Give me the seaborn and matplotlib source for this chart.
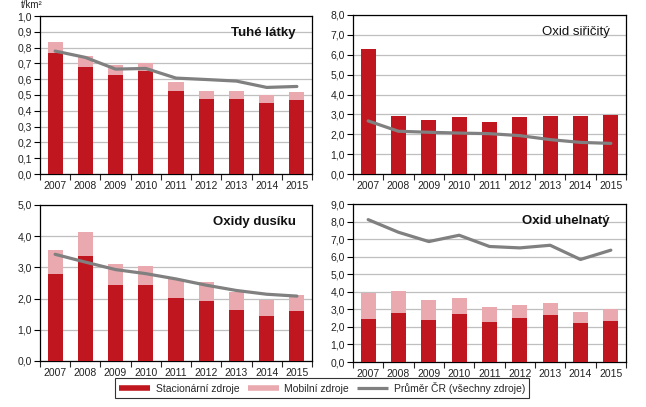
import numpy as np
import pandas as pd
import matplotlib
matplotlib.use("Agg")
import matplotlib.pyplot as plt
from matplotlib.lines import Line2D
from matplotlib.ticker import FuncFormatter, FixedLocator
import seaborn as sns

years = ["2007", "2008", "2009", "2010", "2011", "2012", "2013", "2014", "2015"]

# Tuhe latky
tzl_stat = [0.767, 0.677, 0.628, 0.649, 0.526, 0.474, 0.474, 0.450, 0.469]
tzl_mob = [0.068, 0.069, 0.059, 0.051, 0.057, 0.050, 0.050, 0.047, 0.049]
tzl_avg = [0.778, 0.738, 0.664, 0.668, 0.607, 0.598, 0.588, 0.548, 0.554]

# Oxid siricity
so2_stat = [6.28, 2.90, 2.70, 2.85, 2.60, 2.85, 2.90, 2.90, 2.95]
so2_mob = [0.01, 0.01, 0.01, 0.01, 0.01, 0.01, 0.01, 0.01, 0.01]
so2_avg = [2.67, 2.15, 2.10, 2.06, 2.03, 1.93, 1.73, 1.59, 1.54]

# Oxidy dusiku
nox_stat = [2.78, 3.35, 2.43, 2.43, 2.02, 1.91, 1.62, 1.43, 1.59]
nox_mob = [0.77, 0.77, 0.67, 0.60, 0.62, 0.61, 0.58, 0.51, 0.51]
nox_avg = [3.42, 3.17, 2.93, 2.80, 2.63, 2.43, 2.26, 2.14, 2.08]

# Oxid uhelnaty
co_stat = [2.46, 2.80, 2.40, 2.74, 2.29, 2.51, 2.68, 2.23, 2.34]
co_mob = [1.47, 1.25, 1.14, 0.91, 0.85, 0.74, 0.68, 0.62, 0.68]
co_avg = [8.11, 7.39, 6.86, 7.22, 6.58, 6.50, 6.65, 5.84, 6.37]

panels = [
    ("Tuhé látky", tzl_stat, tzl_mob, tzl_avg, 1.0, 0.1, "bold"),
    ("Oxid siřičitý", so2_stat, so2_mob, so2_avg, 8.0, 1.0, "normal"),
    ("Oxidy dusíku", nox_stat, nox_mob, nox_avg, 5.0, 1.0, "semibold"),
    ("Oxid uhelnatý", co_stat, co_mob, co_avg, 9.0, 1.0, "bold"),
]

RED = "#C0161F"
PINK = "#E9A9AE"
GREY = "#808080"

sns.set_style("white")
plt.rcParams["font.family"] = ["Liberation Sans", "DejaVu Sans"]

fig = plt.figure(figsize=(6.46, 4.07), dpi=100)
W, H = 646.0, 407.0
boxes = [(40, 16, 312, 174), (353, 15, 626, 174), (40, 205, 312, 361), (353, 204, 626, 362)]

for (title, stat, mob, avg, ymax, step, weight), (x0, y0, x1, y1) in zip(panels, boxes):
    ax = fig.add_axes([x0 / W, 1 - y1 / H, (x1 - x0) / W, (y1 - y0) / H])
    df = pd.DataFrame({"year": years, "stat": stat,
                       "total": np.array(stat) + np.array(mob), "avg": avg})
    sns.barplot(data=df, x="year", y="total", color=PINK, width=0.5,
                saturation=1, ax=ax, zorder=2, linewidth=0)
    sns.barplot(data=df, x="year", y="stat", color=RED, width=0.5,
                saturation=1, ax=ax, zorder=3, linewidth=0)
    sns.lineplot(x=np.arange(len(years)), y=df["avg"], color=GREY, lw=2.3,
                 ax=ax, zorder=4)
    ax.set_xlim(-0.5, len(years) - 0.5)
    ax.set_ylim(0, ymax)
    ticks = np.round(np.arange(0, ymax + step / 2, step), 3)
    ax.set_yticks(ticks)
    ax.yaxis.set_major_formatter(FuncFormatter(lambda v, p: f"{v:.1f}".replace(".", ",")))
    ax.grid(axis="y", color="#BFBFBF", lw=0.9, zorder=0)
    ax.set_axisbelow(True)
    ax.set_xlabel("")
    ax.set_ylabel("")
    ax.xaxis.set_minor_locator(FixedLocator(np.arange(-0.5, len(years), 1.0)))
    ax.tick_params(axis="x", which="major", length=0, labelsize=7.5, pad=5, colors="#222222")
    ax.tick_params(axis="x", which="minor", length=4, width=0.8, direction="out", bottom=True)
    ax.tick_params(axis="y", length=4, width=0.8, direction="out", left=True,
                   labelsize=7.5, pad=2, colors="#222222")
    ax.tick_params(axis="both", color="black")
    for s in ax.spines.values():
        s.set_visible(True)
        s.set_color("black")
        s.set_linewidth(0.9)
    ax.text(0.94, 0.89, title, transform=ax.transAxes, ha="right", va="center",
            fontsize=9.5, fontweight=weight, color="#111111")

fig.text(21 / W, 1 - 5 / H, "t/km²", fontsize=7, va="center", ha="left", color="#222222")

handles = [Line2D([], [], color=RED, lw=4, solid_capstyle="butt"),
           Line2D([], [], color=PINK, lw=4, solid_capstyle="butt"),
           Line2D([], [], color=GREY, lw=2.3, solid_capstyle="butt")]
labels = ["Stacionární zdroje", "Mobilní zdroje", "Průměr ČR (všechny zdroje)"]
leg = fig.legend(handles, labels, loc="center", bbox_to_anchor=(322 / W, 1 - 388 / H),
                 ncol=3, fontsize=7.5, frameon=True, fancybox=False, handlelength=3,
                 columnspacing=0.8, handletextpad=0.5, borderpad=0.35, edgecolor="black")
leg.get_frame().set_linewidth(0.8)

fig.savefig("out.png", dpi=100)
